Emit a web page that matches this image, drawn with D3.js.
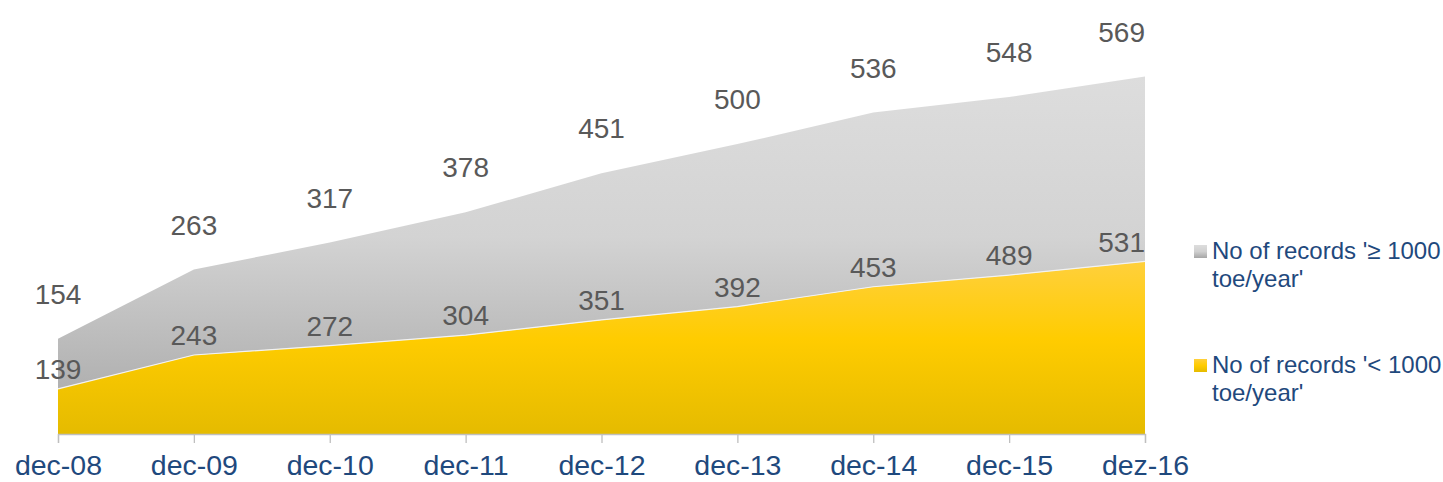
<!DOCTYPE html>
<html>
<head>
<meta charset="utf-8">
<script src="https://cdn.jsdelivr.net/npm/d3@7/dist/d3.min.js"></script>
<style>
  html, body { margin: 0; padding: 0; background: #fff; }
  svg { display: block; font-family: "Liberation Sans", Arial, sans-serif; }
</style>
</head>
<body>
<svg id="chart" width="1443" height="482"></svg>
<script>
const categories = ["dec-08", "dec-09", "dec-10", "dec-11", "dec-12", "dec-13", "dec-14", "dec-15", "dez-16"];
const smallRecords = [139, 243, 272, 304, 351, 392, 453, 489, 531];   // '< 1000 toe/year'
const largeRecords = [154, 263, 317, 378, 451, 500, 536, 548, 569];   // '≥ 1000 toe/year'
const seriesNames = ["No of records '< 1000 toe/year'", "No of records '≥ 1000 toe/year'"];
const legendLines = [["No of records '≥ 1000", "toe/year'"], ["No of records '< 1000", "toe/year'"]];

const svg = d3.select("#chart");
const plot = { left: 58, right: 1145, top: 44, bottom: 434 };

const table = categories.map((c, i) => ({ cat: c, small: smallRecords[i], large: largeRecords[i] }));
const stack = d3.stack().keys(["small", "large"]);
const layers = stack(table);

const x = d3.scalePoint().domain(categories).range([plot.left, plot.right]);
const y = d3.scaleLinear().domain([0, 1200]).range([plot.bottom, plot.top]);

const defs = svg.append("defs");
const gGray = defs.append("linearGradient").attr("id", "gGray")
  .attr("gradientUnits", "userSpaceOnUse").attr("x1", 0).attr("x2", 0)
  .attr("y1", y(d3.max(layers[1], d => d[1]))).attr("y2", plot.bottom);
[[0, "#dddddd"], [0.45, "#d3d3d3"], [1, "#a6a6a6"]].forEach(([o, c]) =>
  gGray.append("stop").attr("offset", o).attr("stop-color", c));
const gYel = defs.append("linearGradient").attr("id", "gYel")
  .attr("gradientUnits", "userSpaceOnUse").attr("x1", 0).attr("x2", 0)
  .attr("y1", y(d3.max(layers[0], d => d[1]))).attr("y2", plot.bottom);
[[0, "#ffd03c"], [0.45, "#ffcc00"], [1, "#e5bb00"]].forEach(([o, c]) =>
  gYel.append("stop").attr("offset", o).attr("stop-color", c));

const lgGray = defs.append("linearGradient").attr("id", "lgGray").attr("x1", 0).attr("x2", 0).attr("y1", 0).attr("y2", 1);
[[0, "#dddddd"], [0.5, "#d0d0d0"], [1, "#a6a6a6"]].forEach(([o, c]) => lgGray.append("stop").attr("offset", o).attr("stop-color", c));
const lgYel = defs.append("linearGradient").attr("id", "lgYel").attr("x1", 0).attr("x2", 0).attr("y1", 0).attr("y2", 1);
[[0, "#ffd03c"], [0.5, "#ffcc00"], [1, "#e5bb00"]].forEach(([o, c]) => lgYel.append("stop").attr("offset", o).attr("stop-color", c));

const area = d3.area()
  .x((d, i) => x(categories[i]))
  .y0(d => y(d[0]))
  .y1(d => y(d[1]));

const fills = ["url(#gYel)", "url(#gGray)"];
svg.append("g").selectAll("path").data(layers).join("path")
  .attr("d", area)
  .attr("fill", (d, i) => fills[i]);

// thin light boundary between series
const line = d3.line().x((d, i) => x(categories[i])).y(d => y(d[1]));
svg.append("path").datum(layers[0]).attr("d", line)
  .attr("fill", "none").attr("stroke", "#f2f2f2").attr("stroke-width", 1.2);

// x axis
const axis = d3.axisBottom(x).tickSize(9).tickPadding(12);
const ax = svg.append("g").attr("transform", `translate(0,${plot.bottom})`).call(axis);
ax.select(".domain").attr("stroke", "#bfbfbf").attr("stroke-width", 1.3);
ax.selectAll(".tick line").attr("stroke", "#bfbfbf").attr("stroke-width", 1.3);
ax.selectAll(".tick text").attr("fill", "#1f497d").attr("font-size", 28.5)
  .attr("font-family", "Liberation Sans, Arial, sans-serif").attr("dy", "0.71em");

// data labels
const labelOffsets = [20, 45];
const values = [smallRecords, largeRecords];
layers.forEach((layer, s) => {
  svg.append("g").selectAll("text").data(layer).join("text")
    .attr("x", (d, i) => x(categories[i]))
    .attr("y", d => y(d[1]) - labelOffsets[s])
    .attr("dy", "0.36em")
    .attr("text-anchor", (d, i) => i === categories.length - 1 ? "end" : "middle")
    .attr("fill", "#595959").attr("font-size", 28)
    .text((d, i) => values[s][i]);
});

// legend
const legendY = [252, 366];
const legendFill = ["url(#lgGray)", "url(#lgYel)"];
legendLines.forEach((lines, k) => {
  const g = svg.append("g").attr("transform", `translate(1194,${legendY[k]})`);
  g.append("rect").attr("x", 0).attr("y", -7).attr("width", 13).attr("height", 13).attr("fill", legendFill[k]);
  lines.forEach((t, j) => g.append("text")
    .attr("x", 18).attr("y", 7 + j * 28)
    .attr("fill", "#1f497d").attr("font-size", 24).text(t));
});
</script>
</body>
</html>
